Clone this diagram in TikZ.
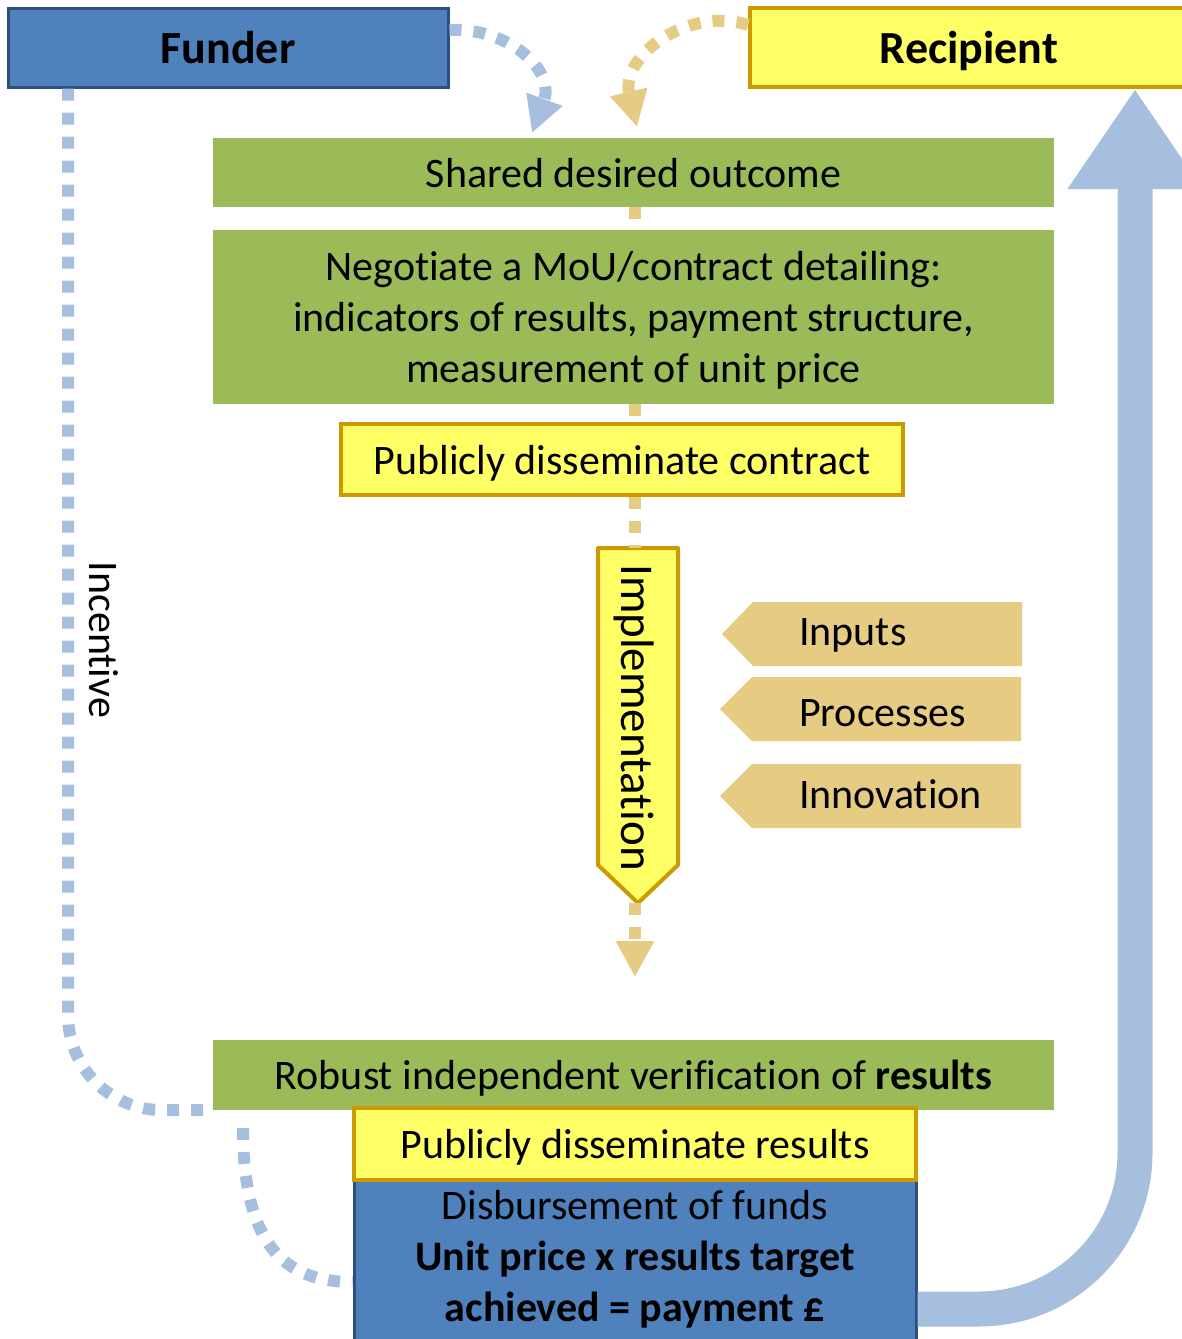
\documentclass[tikz,border=0pt]{standalone}
\usepackage{fontspec}
\setmainfont[Ligatures=NoCommon]{Carlito}
\usetikzlibrary{arrows.meta,calc}
\definecolor{fblue}{HTML}{4F81BD}
\definecolor{fbluedark}{HTML}{2A4F80}
\definecolor{fgreen}{HTML}{9BBB59}
\definecolor{fyellow}{HTML}{FFFF66}
\definecolor{fgold}{HTML}{CC9900}
\definecolor{lblue}{HTML}{A7BFDE}
\definecolor{ftan}{HTML}{E6CB83}
\tikzset{
  txt/.style={font=\fontsize{42pt}{51pt}\selectfont, text depth=0pt},
  bigtxt/.style={font=\fontsize{46pt}{55pt}\selectfont\bfseries, text depth=0pt},
  greenbox/.style={txt, rectangle, fill=fgreen, inner sep=0pt, align=center},
  yellowbox/.style={txt, rectangle, fill=fyellow, draw=fgold, line width=4pt, inner sep=0pt, align=center},
  bluebox/.style={txt, rectangle, fill=fblue, draw=fbluedark, line width=3pt, inner sep=0pt, align=center},
  golddots/.style={draw=ftan, line width=12pt, dash pattern=on 12pt off 12pt},
  bluedots/.style={draw=lblue, line width=12pt, dash pattern=on 12pt off 12pt},
  tanshape/.style={fill=ftan},
  goldtip/.style={-{Triangle[length=36pt,width=36pt]}},
}
\begin{document}
\begin{tikzpicture}[x=1pt,y=-1pt]
\useasboundingbox (0,0) rectangle (1181,1339);

% helper coordinates
\coordinate (cx) at (635,0);
\coordinate (lx) at (68,0);
\coordinate (bx) at (1135,0);
\coordinate (bandy) at (0,1309);

% big blue return arrow (behind boxes)
\node[bluebox, minimum width=562pt, minimum height=185pt] (disb) at (635,1272.5) {};
\node[yellowbox, minimum width=438pt, minimum height=79pt, bigtxt] (recip) at (969,47.5) {Recipient};
\draw[draw=lblue, line width=35pt, rounded corners=156pt, -{Triangle[length=100pt,width=128pt]}]
  (disb.east |- bandy) -- (bx |- bandy) -- (bx |- recip.south);

% top boxes
\node[bluebox, minimum width=440pt, minimum height=79pt, bigtxt] (funder) at (228,47.5) {Funder};

% green / yellow chain
\node[greenbox, minimum width=841pt, minimum height=69pt] (shared) at (633.5,172.5) {Shared desired outcome};
\node[greenbox, minimum width=841pt, minimum height=174pt] (nego) at (633.5,317)
  {Negotiate a MoU/contract detailing:\\indicators of results, payment structure,\\measurement of unit price};
\node[yellowbox, minimum width=562pt, minimum height=71pt] (pubc) at (622,459.5) {Publicly disseminate contract};

% implementation arrow shape
\coordinate (implTop) at (638,548);
\coordinate (implTip) at (638,903);
\filldraw[fill=fyellow, draw=fgold, line width=4pt, line join=round]
  (598,548) -- (678,548) -- (678,865) -- (implTip) -- (598,865) -- cycle;
\node[font=\fontsize{47pt}{56pt}\selectfont, text depth=0pt, rotate=-90, inner sep=0pt] (impl) at (638,717.5) {Implementation};

% inputs / processes / innovation
\fill[tanshape] (722,634) -- (753,602) -- (1022,602) -- (1022,666) -- (753,666) -- cycle;
\fill[tanshape] (720,709) -- (752,677) -- (1021,677) -- (1021,741) -- (752,741) -- cycle;
\fill[tanshape] (720,796) -- (752,764) -- (1021,764) -- (1021,828) -- (752,828) -- cycle;
\node[txt, anchor=west, inner sep=0pt] (inputs) at (799,632) {Inputs};
\node[txt, anchor=west, inner sep=0pt] (processes) at (799,713) {Processes};
\node[txt, anchor=west, inner sep=0pt] (innovation) at (799,794) {Innovation};

% bottom boxes
\node[greenbox, minimum width=841pt, minimum height=70pt] (verif) at (633.5,1075)
  {Robust independent verification of \textbf{results}};
\node[yellowbox, minimum width=562pt, minimum height=72pt] (pubr) at (635,1144) {Publicly disseminate results};
\node[txt, align=center, inner sep=0pt] (disbtext) at (635,1256)
  {Disbursement of funds\\\textbf{Unit price x results target}\\\textbf{achieved = payment £}};

% gold dotted connectors
\draw[golddots] (shared.south -| cx) -- (nego.north -| cx);
\draw[golddots] (nego.south -| cx) -- (pubc.north -| cx);
\draw[golddots] (pubc.south -| cx) -- (implTop -| cx);
\coordinate (implEnd) at (635,977);
\draw[golddots, goldtip] (implTip -| cx) -- (implEnd);

% top curved arrows
\coordinate (blueEnd) at (532,133);
\coordinate (goldEnd) at (637,127);
\draw[bluedots, -{Triangle[length=36pt,width=36pt,fill=lblue]}]
  (funder.east |- 0,30) .. controls (505,27) and (556,68) .. (blueEnd);
\draw[golddots, goldtip]
  (recip.west |- 0,25) .. controls (690,6) and (620,55) .. (goldEnd);

% incentive loop
\draw[bluedots, rounded corners=95pt] (lx |- funder.south) |- (verif.south west);
\node[txt, rotate=-90, inner sep=0pt] (incent) at (104,640) {Incentive};
\coordinate (loopStart) at (243,1128);
\draw[bluedots] (loopStart) .. controls (243,1245) and (285,1282) .. (disb.west |- 0,1282);

\end{tikzpicture}
\end{document}
